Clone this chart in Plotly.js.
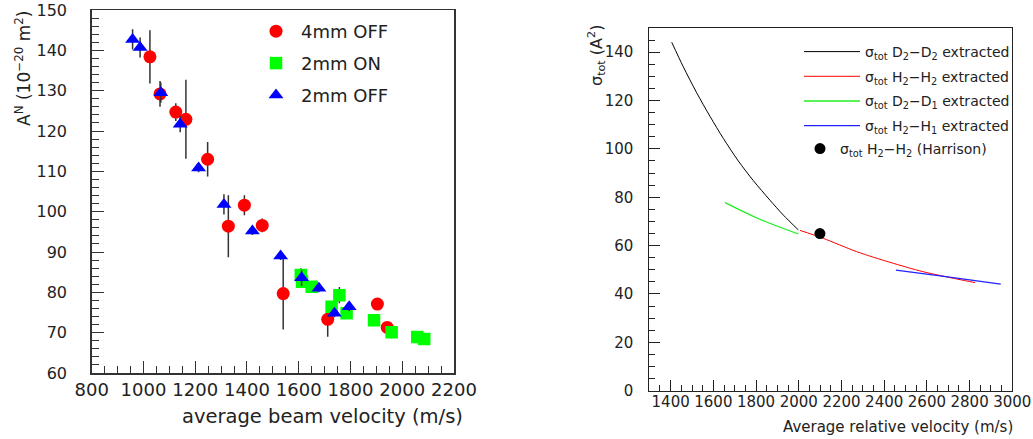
<!DOCTYPE html>
<html>
<head>
<meta charset="utf-8">
<script src="https://cdn.plot.ly/plotly-3.0.1.min.js"></script>
<style>html,body{margin:0;padding:0;background:#fff;} #chart{width:1033px;height:439px;}</style>
</head>
<body>
<div id="chart"></div>
<script>
// ---- Left panel: A^N vs average beam velocity ----
const off4_v   = [1025, 1064, 1125, 1164, 1248, 1328, 1390, 1459, 1540, 1712, 1904, 1942];
const off4_A   = [138.4, 129.2, 124.7, 122.9, 113.0, 96.4, 101.6, 96.6, 79.7, 73.3, 77.1, 71.3];
const off4_err = [6.6, 3.2, 2.2, 9.8, 4.3, 7.7, 2.5, 1.7, 8.9, 4.3, 1.2, 1.2];

const on2_v    = [1608, 1613, 1650, 1727, 1757, 1785, 1891, 1959, 2058, 2085];
const on2_A    = [84.3, 82.6, 81.4, 76.4, 79.3, 74.8, 73.1, 70.1, 68.9, 68.4];
const on2_err  = [1.7, 1.0, 1.0, 1.0, 2.0, 1.0, 1.0, 1.5, 1.0, 1.2];

const off2_v   = [958, 987, 1067, 1142, 1213, 1311, 1421, 1530, 1611, 1678, 1738, 1795];
const off2_A   = [142.7, 140.7, 129.5, 121.7, 110.8, 101.8, 95.2, 89.0, 83.6, 81.0, 74.8, 76.4];
const off2_err = [2.5, 2.5, 2.5, 2.0, 1.0, 2.5, 1.0, 1.0, 2.0, 1.0, 1.0, 1.0];

const leftNames = ["4mm OFF", "2mm ON", "2mm OFF"];

// ---- Right panel: sigma_tot vs average relative velocity ----
const d2d2_v = [1405, 1459, 1522, 1584, 1647, 1717, 1787, 1865, 1928, 1998];
const d2d2_s = [144.1, 134.0, 123.2, 113.5, 104.3, 95.0, 86.9, 78.8, 72.6, 66.5];

const h2h2_v = [2006, 2115, 2271, 2427, 2583, 2740, 2826];
const h2h2_s = [66.3, 63.0, 57.5, 53.1, 49.2, 46.2, 44.7];

const d2d1_v = [1655, 1818, 1998];
const d2d1_s = [77.8, 70.9, 64.8];

const h2h1_v = [2455, 2662, 2946];
const h2h1_s = [49.9, 47.5, 44.1];

const harrison_v = [2099];
const harrison_s = [65.0];

const rightNames = [
  "σ<sub>tot</sub> D<sub>2</sub>−D<sub>2</sub> extracted",
  "σ<sub>tot</sub> H<sub>2</sub>−H<sub>2</sub> extracted",
  "σ<sub>tot</sub> D<sub>2</sub>−D<sub>1</sub> extracted",
  "σ<sub>tot</sub> H<sub>2</sub>−H<sub>1</sub> extracted",
  "σ<sub>tot</sub> H<sub>2</sub>−H<sub>2</sub> (Harrison)"
];

const FONT = '"DejaVu Sans", "Liberation Sans", sans-serif';
const W = 1033, H = 439;
const px = v => v / W;
const py = v => (H - v) / H;

function errY(arr) {
  return {type: 'data', array: arr, visible: true, color: '#333', thickness: 1.5, width: 0};
}

const traces = [
  {x: off4_v, y: off4_A, error_y: errY(off4_err), type: 'scatter', mode: 'markers', name: leftNames[0],
   marker: {symbol: 'circle', size: 13, color: '#ff0000'}, xaxis: 'x', yaxis: 'y', legend: 'legend', legendgroup: 'a'},
  {x: on2_v, y: on2_A, error_y: errY(on2_err), type: 'scatter', mode: 'markers', name: leftNames[1],
   marker: {symbol: 'square', size: 12.5, color: '#00ff00'}, xaxis: 'x', yaxis: 'y', legend: 'legend', legendgroup: 'b'},
  {x: off2_v, y: off2_A, error_y: errY(off2_err), type: 'scatter', mode: 'markers', name: leftNames[2],
   marker: {symbol: 'triangle-up', size: 13, color: '#0000ff'}, xaxis: 'x', yaxis: 'y', legend: 'legend', legendgroup: 'c'},

  {x: d2d2_v, y: d2d2_s, type: 'scatter', mode: 'lines', name: rightNames[0], line: {color: '#000000', width: 1, shape: 'spline', smoothing: 0.8},
   xaxis: 'x2', yaxis: 'y2', legend: 'legend2', legendgroup: 'd'},
  {x: h2h2_v, y: h2h2_s, type: 'scatter', mode: 'lines', name: rightNames[1], line: {color: '#ff0000', width: 1, shape: 'spline', smoothing: 0.8},
   xaxis: 'x2', yaxis: 'y2', legend: 'legend2', legendgroup: 'e'},
  {x: d2d1_v, y: d2d1_s, type: 'scatter', mode: 'lines', name: rightNames[2], line: {color: '#22ee22', width: 1.3, shape: 'spline'},
   xaxis: 'x2', yaxis: 'y2', legend: 'legend2', legendgroup: 'f'},
  {x: h2h1_v, y: h2h1_s, type: 'scatter', mode: 'lines', name: rightNames[3], line: {color: '#2222ff', width: 1.3, shape: 'spline'},
   xaxis: 'x2', yaxis: 'y2', legend: 'legend2', legendgroup: 'g'},
  {x: harrison_v, y: harrison_s, type: 'scatter', mode: 'markers', name: rightNames[4], marker: {symbol: 'circle', size: 11, color: '#000000'},
   xaxis: 'x2', yaxis: 'y2', legend: 'legend3', legendgroup: 'h'}
];

const axLeft = {showline: true, linecolor: '#333', linewidth: 1.5, mirror: true, ticks: 'inside', tickcolor: '#333',
  showgrid: false, zeroline: false, fixedrange: true};
const axRight = {showline: true, linecolor: '#222', linewidth: 1, mirror: true, ticks: 'inside', tickcolor: '#222',
  showgrid: false, zeroline: false, fixedrange: true};

const layout = {
  width: W, height: H,
  margin: {l: 0, r: 0, t: 0, b: 0},
  paper_bgcolor: '#ffffff', plot_bgcolor: '#ffffff',
  font: {family: FONT, color: '#222', size: 15},
  showlegend: true,
  xaxis: Object.assign({}, axLeft, {domain: [px(91.7), px(454)], anchor: 'y', range: [800, 2200], dtick: 200, tick0: 800,
    ticklen: 12, tickwidth: 1, tickfont: {size: 18, family: FONT}, ticklabelstandoff: 0,
    minor: {dtick: 50, ticklen: 7, ticks: 'inside', tickcolor: '#333'}}),
  yaxis: Object.assign({}, axLeft, {domain: [py(373), py(10)], anchor: 'x', range: [60, 150], dtick: 10, tick0: 60,
    ticklen: 12, tickwidth: 1, tickfont: {size: 16, family: FONT}, ticklabelstandoff: 20,
    minor: {dtick: 2, ticklen: 7, ticks: 'inside', tickcolor: '#333'}}),
  xaxis2: Object.assign({}, axRight, {domain: [px(649.3), px(1012.3)], anchor: 'y2', range: [1300, 3000], dtick: 200, tick0: 1400,
    ticklen: 11, tickwidth: 1, tickfont: {size: 15, family: FONT}, ticklabelstandoff: -3,
    minor: {dtick: 50, ticklen: 6, ticks: 'inside', tickcolor: '#222'}}),
  yaxis2: Object.assign({}, axRight, {domain: [py(390.7), py(28)], anchor: 'x2', range: [0, 150], dtick: 20, tick0: 0,
    ticklen: 11, tickwidth: 1, tickfont: {size: 15, family: FONT}, ticklabelstandoff: 12,
    minor: {dtick: 5, ticklen: 6, ticks: 'inside', tickcolor: '#222'}}),
  legend: {x: px(251), y: py(13), xanchor: 'left', yanchor: 'top', bgcolor: 'rgba(0,0,0,0)', borderwidth: 0,
    font: {size: 18, family: FONT, color: '#222'}, itemwidth: 40, tracegroupgap: 5.5, itemclick: false},
  legend2: {x: px(799), y: py(36), xanchor: 'left', yanchor: 'top', bgcolor: 'rgba(0,0,0,0)', borderwidth: 0,
    font: {size: 14, family: FONT, color: '#222'}, itemwidth: 56, tracegroupgap: 3.5, itemclick: false},
  legend3: {x: px(800), y: py(133), xanchor: 'left', yanchor: 'top', bgcolor: 'rgba(0,0,0,0)', borderwidth: 0,
    font: {size: 14, family: FONT, color: '#222'}, itemwidth: 30, itemclick: false},
  annotations: [
    {text: "average beam velocity (m/s)", xref: 'paper', yref: 'paper', x: px(465), y: py(416), xanchor: 'right', yanchor: 'middle',
     showarrow: false, font: {size: 19.5, family: FONT, color: '#222'}},
    {text: "A<sup>N</sup> (10<sup>−20</sup> m<sup>2</sup>)", xref: 'paper', yref: 'paper', x: px(23), y: py(68), xanchor: 'center', yanchor: 'middle',
     textangle: -90, showarrow: false, font: {size: 17, family: FONT, color: '#222'}},
    {text: "Average relative velocity (m/s)", xref: 'paper', yref: 'paper', x: px(1015), y: py(426.5), xanchor: 'right', yanchor: 'middle',
     showarrow: false, font: {size: 15, family: FONT, color: '#222'}},
    {text: "σ<sub>tot</sub> (A<sup>2</sup>)", xref: 'paper', yref: 'paper', x: px(597), y: py(56), xanchor: 'center', yanchor: 'middle',
     textangle: -90, showarrow: false, font: {size: 16, family: FONT, color: '#222'}}
  ]
};

Plotly.newPlot('chart', traces, layout, {staticPlot: true, displayModeBar: false});
</script>
</body>
</html>
